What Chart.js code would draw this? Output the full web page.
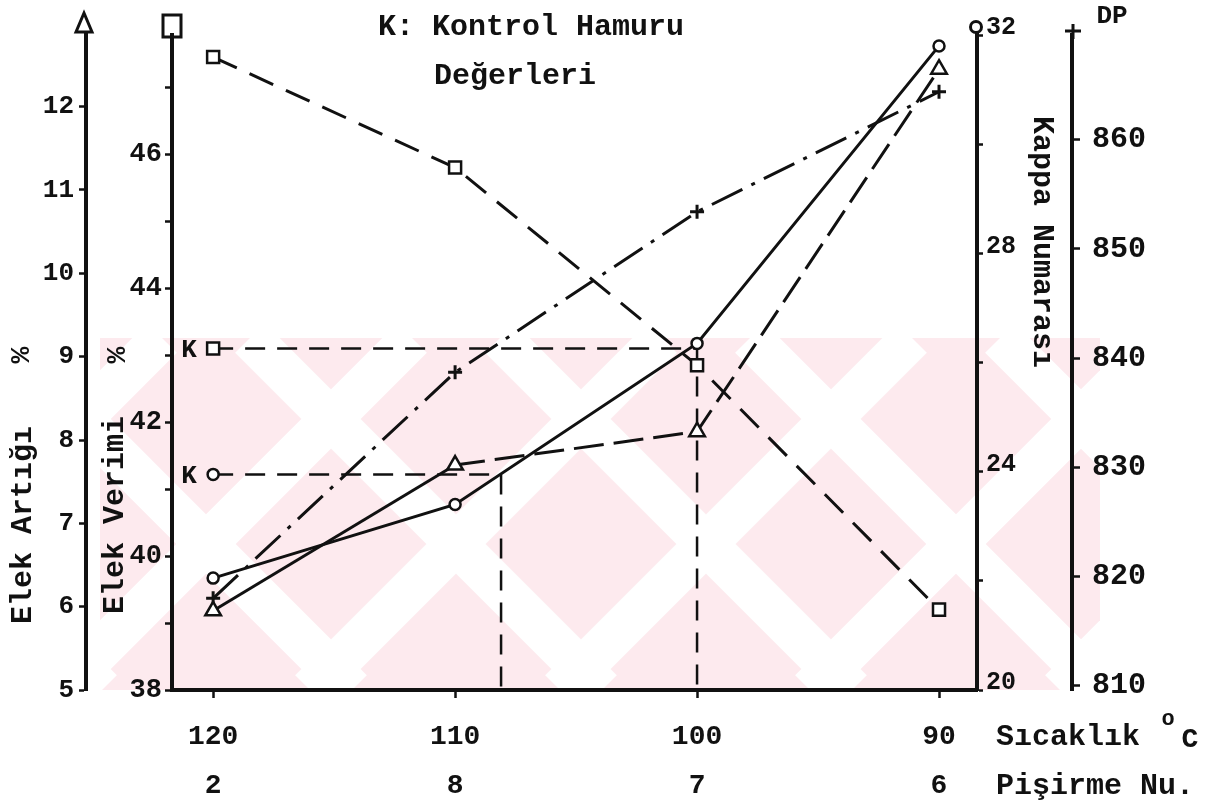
<!DOCTYPE html>
<html>
<head>
<meta charset="utf-8">
<script src="https://cdn.jsdelivr.net/npm/chart.js@4.4.0/dist/chart.umd.min.js"></script>
<style>
  html, body { margin: 0; padding: 0; background: #fff; }
  #wrap { width: 1221px; height: 803px; }
</style>
</head>
<body>
<div id="wrap"><canvas id="grafik"></canvas></div>
<script>
// Pişirme sıcaklıkları (°C) ve pişirme numaraları
const sicaklik = [120, 110, 100, 90];
const pisirmeNo = ['2', '8', '7', '6'];

// Seriler
const elekVerimi = [47.45, 45.8, 42.85, 39.2];   // kare, kesikli
const kappaNo = [22.05, 23.4, 26.35, 31.8];      // daire, düz
const elekArtigi = [5.95, 7.7, 8.1, 12.45];      // üçgen
const dpDegeri = [818, 838.7, 853.4, 864.4];     // artı, kesik-nokta

// Kontrol hamuru (K) değerleri
const kontrolVerimi = 43.1;
const kontrolKappa = 23.95;
// kontrol seviyesine inilen sıcaklıklar (dikey kesikli çizgiler)
const kesisimVerimi = 100;
const kesisimKappa = 108.1;

// eksen sınırları
const verimiMin = 38, verimiMax = 47.78;
const kappaMin = 20, kappaMax = 32;
const artigiMin = 5, artigiMax = 12.86;
const dpMin = 809.6, dpMax = 869.6;

const FONT = "'Liberation Mono', 'DejaVu Sans Mono', monospace";
const ink = '#111';

function noktalar(ys) {
    return sicaklik.map((t, i) => ({ x: t, y: ys[i] }));
}

// verilen adımın katlarına denk gelen tikler
function tamTikler(ax, adim) {
    const out = [];
    for (let v = Math.ceil(ax.min / adim) * adim; v <= ax.max + 1e-9; v += adim) {
        out.push({ value: Math.round(v) });
    }
    ax.ticks = out;
}

function yaz(ctx, text, x, y, size, rot, align) {
    ctx.save();
    ctx.translate(x, y);
    if (rot) ctx.rotate(rot);
    ctx.font = 'bold ' + size + 'px ' + FONT;
    ctx.fillStyle = ink;
    ctx.textAlign = align || 'center';
    ctx.textBaseline = 'middle';
    ctx.fillText(text, 0, 0);
    ctx.restore();
}

const ekYazilar = {
    id: 'ekYazilar',
    beforeDraw(chart) {
        const { ctx, chartArea: ca } = chart;
        // soluk pembe filigran
        const x0 = 100, y0 = 338, x1 = 1100, y1 = ca.bottom;
        ctx.save();
        ctx.beginPath();
        ctx.rect(x0, y0, x1 - x0, y1 - y0);
        ctx.clip();
        ctx.fillStyle = '#fdeaee';
        ctx.fillRect(x0, y0, x1 - x0, y1 - y0);
        ctx.strokeStyle = '#fff';
        ctx.lineWidth = 42;
        const h = y1 - y0;
        for (let s = -600; s < 1300; s += 250) {
            ctx.beginPath(); ctx.moveTo(x0 + s, y0); ctx.lineTo(x0 + s + h, y1); ctx.stroke();
            ctx.beginPath(); ctx.moveTo(x0 + s + h + 60, y0); ctx.lineTo(x0 + s + 60, y1); ctx.stroke();
        }
        ctx.restore();
    },
    afterDraw(chart) {
        const { ctx, scales } = chart;
        const sx = scales.x;

        yaz(ctx, 'K: Kontrol Hamuru', 531, 27, 30);
        yaz(ctx, 'Değerleri', 515, 76, 30);

        yaz(ctx, 'Elek Artığı', 23, 525, 30, -Math.PI / 2);
        yaz(ctx, '%', 22, 355, 28, -Math.PI / 2);
        yaz(ctx, 'Elek Verimi', 115, 515, 30, -Math.PI / 2);
        yaz(ctx, '%', 118, 355, 28, -Math.PI / 2);
        yaz(ctx, 'Kappa Numarası', 1042, 242, 30, Math.PI / 2);
        yaz(ctx, 'DP', 1112, 16, 26);

        // K etiketleri
        const kx = sx.getPixelForValue(sicaklik[0]) - 24;
        yaz(ctx, 'K', kx, scales.yVerimi.getPixelForValue(kontrolVerimi) + 2, 26);
        yaz(ctx, 'K', kx, scales.yKappa.getPixelForValue(kontrolKappa) + 2, 26);

        // x ekseni adları
        yaz(ctx, 'Sıcaklık', 996, 737, 30, 0, 'left');
        yaz(ctx, 'o', 1168, 719, 22);
        yaz(ctx, 'C', 1190, 740, 28);
        yaz(ctx, 'Pişirme Nu.', 996, 786, 30, 0, 'left');

        // eksen uçlarındaki işaretler
        ctx.save();
        ctx.strokeStyle = ink;
        ctx.lineWidth = 3;
        const ax1 = scales.yArtigi.right;
        ctx.beginPath();
        ctx.moveTo(ax1 - 2, 13); ctx.lineTo(ax1 + 6, 32); ctx.lineTo(ax1 - 10, 32); ctx.closePath();
        ctx.stroke();
        const ax2 = scales.yVerimi.right;
        ctx.strokeRect(ax2 - 9, 15, 18, 22);
        const ax3 = scales.yKappa.left;
        ctx.beginPath(); ctx.arc(ax3 - 1, 27, 5.5, 0, Math.PI * 2); ctx.stroke();
        const ax4 = scales.yDP.left;
        ctx.beginPath();
        ctx.moveTo(ax4 - 7, 31); ctx.lineTo(ax4 + 9, 31);
        ctx.moveTo(ax4 + 1, 24); ctx.lineTo(ax4 + 1, 39);
        ctx.stroke();
        ctx.restore();
    }
};

const tickFont = size => ({ family: FONT, size: size, weight: 'bold' });
const sadeGrid = len => ({ drawOnChartArea: false, drawTicks: true, tickLength: len, tickColor: ink, tickWidth: 2.5 });
const kenar = { display: true, color: ink, width: 4 };

const ortak = {
    borderColor: ink,
    borderWidth: 3,
    pointBorderColor: ink,
    pointBackgroundColor: '#fff',
    pointBorderWidth: 2.5,
    tension: 0,
    clip: false
};

new Chart(document.getElementById('grafik'), {
    type: 'line',
    data: {
        datasets: [
            Object.assign({}, ortak, {
                label: 'Elek Verimi %',
                data: noktalar(elekVerimi),
                yAxisID: 'yVerimi',
                borderDash: [26, 14],
                pointStyle: 'rect',
                pointRadius: 8.5
            }),
            Object.assign({}, ortak, {
                label: 'Kappa Numarası',
                data: noktalar(kappaNo),
                yAxisID: 'yKappa',
                pointStyle: 'circle',
                pointRadius: 5.5
            }),
            Object.assign({}, ortak, {
                label: 'Elek Artığı %',
                data: noktalar(elekArtigi),
                yAxisID: 'yArtigi',
                pointStyle: 'triangle',
                pointRadius: 9,
                segment: { borderDash: c => c.p0DataIndex === 0 ? undefined : [30, 10] }
            }),
            Object.assign({}, ortak, {
                label: 'DP',
                data: noktalar(dpDegeri),
                yAxisID: 'yDP',
                borderDash: [34, 10, 4, 10],
                pointStyle: 'cross',
                pointRadius: 7,
                pointBorderWidth: 3
            }),
            Object.assign({}, ortak, {
                label: 'K Verimi',
                data: [
                    { x: sicaklik[0], y: kontrolVerimi },
                    { x: kesisimVerimi, y: kontrolVerimi },
                    { x: kesisimVerimi, y: verimiMin }
                ],
                yAxisID: 'yVerimi',
                borderWidth: 2.5,
                borderDash: [20, 12],
                pointStyle: 'rect',
                pointRadius: [8.5, 0, 0]
            }),
            Object.assign({}, ortak, {
                label: 'K Kappa',
                data: [
                    { x: sicaklik[0], y: kontrolKappa },
                    { x: kesisimKappa, y: kontrolKappa },
                    { x: kesisimKappa, y: kappaMin }
                ],
                yAxisID: 'yKappa',
                borderWidth: 2.5,
                borderDash: [20, 12],
                pointStyle: 'circle',
                pointRadius: [5.5, 0, 0]
            })
        ]
    },
    options: {
        responsive: true,
        maintainAspectRatio: false,
        animation: false,
        layout: { padding: { top: 35, left: 0, right: 0, bottom: 0 } },
        plugins: { legend: { display: false }, tooltip: { enabled: false } },
        scales: {
            x: {
                type: 'linear',
                reverse: true,
                min: 88.43,
                max: 121.7,
                afterBuildTicks: ax => { ax.ticks = sicaklik.map(v => ({ value: v })); },
                afterFit: ax => { ax.height = 113; },
                ticks: {
                    callback: (v, i) => [String(v), pisirmeNo[i]],
                    font: { family: FONT, size: 28, weight: 'bold', lineHeight: 1.75 },
                    color: ink,
                    padding: 14,
                    maxRotation: 0,
                    minRotation: 0,
                    autoSkip: false
                },
                grid: sadeGrid(8),
                border: kenar
            },
            yArtigi: {
                position: 'left',
                weight: 1,
                min: artigiMin,
                max: artigiMax,
                afterBuildTicks: ax => tamTikler(ax, 1),
                afterFit: ax => { ax.width = 86; },
                ticks: { font: tickFont(26), color: ink, padding: 5 },
                grid: sadeGrid(7),
                border: kenar
            },
            yVerimi: {
                position: 'left',
                weight: 0,
                min: verimiMin,
                max: verimiMax,
                afterBuildTicks: ax => tamTikler(ax, 1),
                afterFit: ax => { ax.width = 86; },
                ticks: {
                    callback: v => (v % 2 === 0 ? v : ''),
                    font: tickFont(27), color: ink, padding: 3
                },
                grid: sadeGrid(7),
                border: kenar
            },
            yKappa: {
                position: 'right',
                weight: 0,
                min: kappaMin,
                max: kappaMax,
                afterBuildTicks: ax => tamTikler(ax, 2),
                afterFit: ax => { ax.width = 95; },
                ticks: {
                    callback: v => (v % 4 === 0 ? v : ''),
                    font: tickFont(25), color: ink, padding: 3, labelOffset: -7
                },
                grid: sadeGrid(6),
                border: kenar
            },
            yDP: {
                position: 'right',
                weight: 1,
                min: dpMin,
                max: dpMax,
                afterBuildTicks: ax => tamTikler(ax, 10),
                afterFit: ax => { ax.width = 149; },
                ticks: { font: tickFont(30), color: ink, padding: 12 },
                grid: sadeGrid(8),
                border: kenar
            }
        }
    },
    plugins: [ekYazilar]
});
</script>
</body>
</html>
